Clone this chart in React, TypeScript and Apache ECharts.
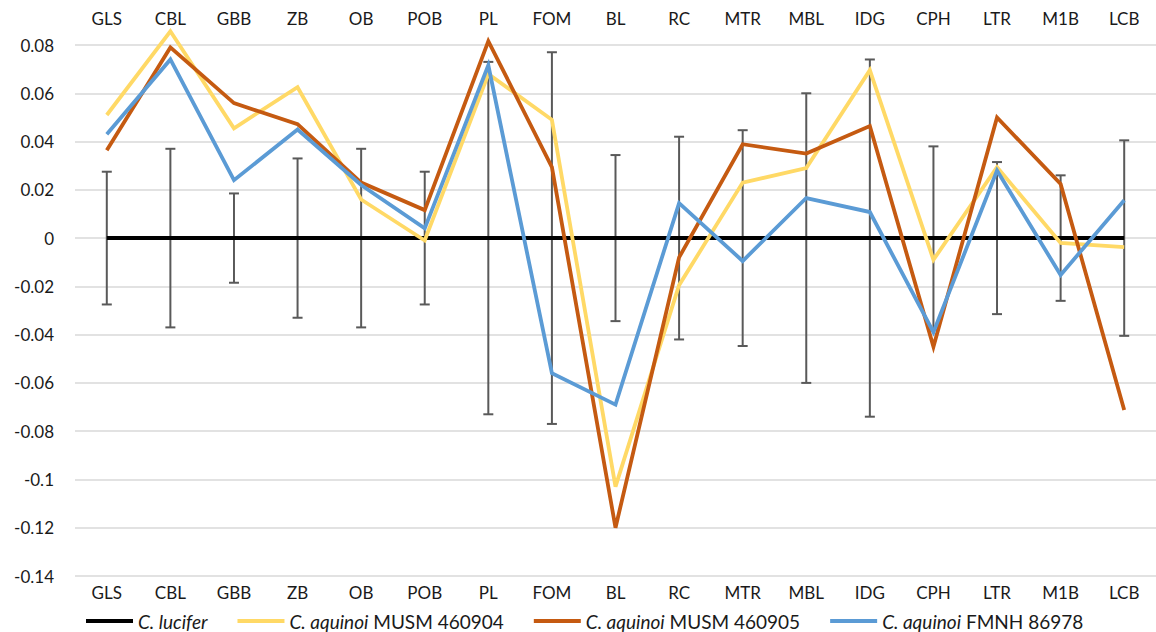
import React, { useEffect, useRef } from "react";
import * as echarts from "echarts";

const categories = ["GLS", "CBL", "GBB", "ZB", "OB", "POB", "PL", "FOM", "BL", "RC", "MTR", "MBL", "IDG", "CPH", "LTR", "M1B", "LCB"];
const lucifer = [0, 0, 0, 0, 0, 0, 0, 0, 0, 0, 0, 0, 0, 0, 0, 0, 0];
const musm460904 = [0.051, 0.0857, 0.0455, 0.0625, 0.016, -0.001, 0.068, 0.049, -0.103, -0.0195, 0.023, 0.029, 0.0696, -0.009, 0.0294, -0.002, -0.0037];
const musm460905 = [0.0364, 0.079, 0.0559, 0.0472, 0.023, 0.0116, 0.0816, 0.0294, -0.12, -0.008, 0.0389, 0.035, 0.0464, -0.045, 0.05, 0.0224, -0.0712];
const fmnh86978 = [0.043, 0.074, 0.024, 0.045, 0.022, 0.004, 0.0716, -0.056, -0.069, 0.0145, -0.0095, 0.0166, 0.0108, -0.039, 0.028, -0.0153, 0.0157];
const errorBars = [0.0275, 0.037, 0.0185, 0.033, 0.037, 0.0275, 0.073, 0.077, 0.0344, 0.042, 0.0447, 0.06, 0.074, 0.038, 0.0315, 0.026, 0.0405];
const yTicks = { min: -0.14, max: 0.08, interval: 0.02 };

const FONT = "Lato";
const FS = 17;
const LFS = 19;

export default function App() {
  const ref = useRef<HTMLDivElement>(null);
  useEffect(() => {
    document.body.style.margin = "0";
    const chart = echarts.init(ref.current!, undefined, { renderer: "svg" });
    const lineSeries = (name: string, data: number[], color: string, width: number) => ({
      name,
      type: "line",
      data,
      symbol: "none",
      showSymbol: false,
      clip: false,
      lineStyle: { color, width, join: "miter" },
      itemStyle: { color },
      z: 3,
    });
    const option = {
      animation: false,
      backgroundColor: "#fff",
      textStyle: { fontFamily: FONT },
      grid: { left: 75, right: -6, top: 45, bottom: 56 },
      xAxis: [
        {
          type: "category",
          data: categories,
          position: "bottom",
          axisLine: { show: false, onZero: false },
          axisTick: { show: false },
          axisLabel: { fontFamily: FONT, fontSize: FS, color: "#1a1a1a", margin: 8 },
        },
        {
          type: "category",
          data: categories,
          position: "top",
          axisLine: { show: false, onZero: false },
          axisTick: { show: false },
          axisLabel: { fontFamily: FONT, fontSize: FS, color: "#1a1a1a", margin: 18 },
        },
      ],
      yAxis: {
        type: "value",
        min: yTicks.min,
        max: yTicks.max,
        interval: yTicks.interval,
        axisLine: { show: false },
        axisTick: { show: false },
        splitLine: { lineStyle: { color: "#D9D9D9", width: 1.5 } },
        axisLabel: {
          fontFamily: FONT,
          fontSize: FS,
          color: "#1a1a1a",
          margin: 21,
          formatter: (v: number) => {
            const r = Math.round(v * 100) / 100;
            return String(r);
          },
        },
      },
      legend: {
        left: 86,
        top: 610,
        padding: 0,
        itemWidth: 47,
        itemHeight: 4,
        itemGap: 30,
        icon: "rect",
        data: ["C. lucifer", "C. aquinoi MUSM 460904", "C. aquinoi MUSM 460905", "C. aquinoi FMNH 86978"],
        formatter: (name: string) => {
          const idx = name.indexOf(" ", 3);
          if (name.startsWith("C. lucifer")) return "{i|C. lucifer}";
          return "{i|" + name.slice(0, idx) + "}" + name.slice(idx);
        },
        textStyle: {
          fontFamily: FONT,
          fontSize: LFS,
          lineHeight: 22,
          color: "#1a1a1a",
          rich: { i: { fontStyle: "italic", fontFamily: FONT, fontSize: LFS, lineHeight: 22, color: "#1a1a1a" } },
        },
      },
      series: [
        {
          type: "custom",
          name: "err",
          z: 1,
          data: errorBars.map((e, i) => [i, -e, e]),
          renderItem: (params: any, api: any) => {
            const i = api.value(0);
            const lo = api.coord([i, api.value(1)]);
            const hi = api.coord([i, api.value(2)]);
            const hw = 5;
            const style = { stroke: "#595959", lineWidth: 2, fill: "none" };
            return {
              type: "group",
              children: [
                { type: "line", shape: { x1: lo[0], y1: lo[1], x2: hi[0], y2: hi[1] }, style },
                { type: "line", shape: { x1: hi[0] - hw, y1: hi[1], x2: hi[0] + hw, y2: hi[1] }, style },
                { type: "line", shape: { x1: lo[0] - hw, y1: lo[1], x2: lo[0] + hw, y2: lo[1] }, style },
              ],
            };
          },
        },
        lineSeries("C. lucifer", lucifer, "#000000", 4),
        lineSeries("C. aquinoi MUSM 460904", musm460904, "#FFD966", 3.8),
        lineSeries("C. aquinoi MUSM 460905", musm460905, "#C55A11", 3.8),
        lineSeries("C. aquinoi FMNH 86978", fmnh86978, "#5B9BD5", 3.8),
      ],
    };
    chart.setOption(option as any);
    return () => chart.dispose();
  }, []);
  return <div ref={ref} style={{ width: 1156, height: 632 }} />;
}
